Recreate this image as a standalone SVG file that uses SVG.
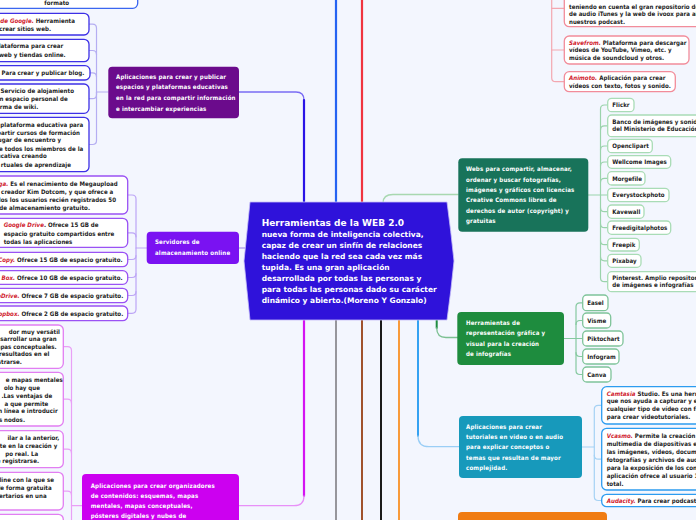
<svg xmlns="http://www.w3.org/2000/svg" width="696" height="520" viewBox="0 0 696 520">
<style>
.t{font-family:"DejaVu Sans Condensed","DejaVu Sans",sans-serif;font-weight:bold;font-size:6.1px;fill:#1c1c1c;letter-spacing:0.03px}
.e{text-anchor:end}
.n{font-family:"DejaVu Sans Condensed","DejaVu Sans",sans-serif;font-weight:bold;font-size:6.1px;fill:#fff;letter-spacing:0.15px}
.c{font-family:"DejaVu Sans",sans-serif;font-weight:bold;font-size:7.5px;fill:#fff}
.r{fill:#d0202c;font-style:italic}
.bx{fill:#fff;stroke-width:1.3}
.pu{stroke:#3d30e6}
.vi{stroke:#9a52f4}
.ma{stroke:#e27ef2}
.wg{stroke:#a9dcb6}
.gg{stroke:#7fc49a}
.tb{stroke:#2c9cf0}
.rd{stroke:#f28c9a}
.bl{stroke:#3a66f0}
.k{fill:none;stroke-linecap:round}
</style>
<rect width="696" height="520" fill="#f3f6fe"/>
<g id="connectors" class="k">
<path d="M239,92 H296 Q304,92 304,100" stroke="#7a6cf4" stroke-width="1.3"/>
<path d="M304,100 V203" stroke="#2a14e6" stroke-width="2.2"/>
<path d="M336,0 V203" stroke="#2563f2" stroke-width="2.2"/>
<path d="M362,0 V203" stroke="#f0343f" stroke-width="2.2"/>
<path d="M383,203 Q383,194.5 393,194.5 H458" stroke="#a8d8b0" stroke-width="1.3"/>
<path d="M239,248 H246" stroke="#b8a8f0" stroke-width="1.3"/>
<path d="M304,319 V496" stroke="#d414f2" stroke-width="2.2"/>
<path d="M304,496 Q304,505.7 294,505.7 H239" stroke="#e890f8" stroke-width="1.3"/>
<path d="M336,319 V522" stroke="#96969c" stroke-width="2"/>
<path d="M362,319 V522" stroke="#a0522d" stroke-width="2"/>
<path d="M381,319 V522" stroke="#1a1a1a" stroke-width="2"/>
<path d="M399,319 V522" stroke="#f89a3a" stroke-width="2"/>
<path d="M418,319 V436" stroke="#35a2f2" stroke-width="2"/>
<path d="M418,436 Q418,446.7 429,446.7 H459" stroke="#9acef6" stroke-width="1.3"/>
<path d="M436.7,319 V328" stroke="#1f8c40" stroke-width="2"/>
<path d="M436.7,328 Q436.7,337.5 446,337.5 H458" stroke="#7cc092" stroke-width="1.3"/>
<g stroke="#b5aef2" stroke-width="1.2">
<path d="M108,92 H96.5 V28.2 Q96.5,24.2 92.5,24.2 H89"/>
<path d="M96.5,54.5 Q96.5,50.5 92.5,50.5 H89"/>
<path d="M96.5,76.8 Q96.5,72.8 92.5,72.8 H90"/>
<path d="M96.5,92 V94.7 Q96.5,98.7 92.5,98.7 H89"/>
<path d="M96.5,92 V140.5 Q96.5,144.5 92.5,144.5 H89"/>
</g>
<g stroke="#bda6f6" stroke-width="1.2">
<path d="M146.7,248 H136 V199 Q136,195 132,195 H127.7"/>
<path d="M136,236.8 Q136,232.8 132,232.8 H127.7"/>
<path d="M136,248 V309.3 Q136,313.3 132,313.3 H127.7"/>
<path d="M136,255.5 Q136,259.5 132,259.5 H127.7"/>
<path d="M136,273.5 Q136,277.5 132,277.5 H127.7"/>
<path d="M136,291.5 Q136,295.5 132,295.5 H127.7"/>
</g>
<g stroke="#e9a0f6" stroke-width="1.2">
<path d="M82,505.7 H71.5 V350.7 Q71.5,346.7 67.5,346.7 H63.3"/>
<path d="M71.5,403.2 Q71.5,399.2 67.5,399.2 H63.3"/>
<path d="M71.5,453.2 Q71.5,449.2 67.5,449.2 H63.3"/>
<path d="M71.5,495.2 Q71.5,491.2 67.5,491.2 H63.3"/>
<path d="M71.5,505.7 V525"/>
</g>
<g stroke="#86c9a0" stroke-width="1.2">
<path d="M564,338.5 H576 V306.8 Q576,302.8 580,302.8 H582.7"/>
<path d="M576,324.5 Q576,320.5 580,320.5 H582.7"/>
<path d="M576,338.5 H582.7"/>
<path d="M576,352.5 Q576,356.5 580,356.5 H582.7"/>
<path d="M576,338.5 V370.5 Q576,374.5 580,374.5 H582.7"/>
</g>
<g stroke="#9ad3ab" stroke-width="1.2">
<path d="M588.3,195 H600.5 V109 Q600.5,105 604.5,105 H607.7"/>
<path d="M600.5,129.9 Q600.5,125.9 604.5,125.9 H607.7"/>
<path d="M600.5,150 Q600.5,146 604.5,146 H607.7"/>
<path d="M600.5,166 Q600.5,162 604.5,162 H607.7"/>
<path d="M600.5,182.3 Q600.5,178.3 604.5,178.3 H607.7"/>
<path d="M600.5,195 H607.7"/>
<path d="M600.5,207.7 Q600.5,211.7 604.5,211.7 H607.7"/>
<path d="M600.5,223.7 Q600.5,227.7 604.5,227.7 H607.7"/>
<path d="M600.5,240.7 Q600.5,244.7 604.5,244.7 H607.7"/>
<path d="M600.5,256.8 Q600.5,260.8 604.5,260.8 H607.7"/>
<path d="M600.5,195 V277.7 Q600.5,281.7 604.5,281.7 H607.7"/>
</g>
<g stroke="#a6d2f4" stroke-width="1.2">
<path d="M582,447 H594.3 V409.3 Q594.3,405.3 598.3,405.3 H601.7"/>
<path d="M594.3,455.2 Q594.3,459.2 598.3,459.2 H601.7"/>
<path d="M594.3,447 V496.5 Q594.3,500.5 598.3,500.5 H601.7"/>
</g>
<g stroke="#f3a7b0" stroke-width="1.2">
<path d="M551.7,-5 V77.7 Q551.7,81.7 555.7,81.7 H564.3"/>
<path d="M551.7,8.3 H564.3"/>
<path d="M551.7,50 H564.3"/>
</g>
</g>
<g id="center">
<path d="M250,202 H447 Q451,232 454,261 Q451,291 447,320 H250 Q247,291 244,261 Q247,232 250,202 Z" fill="#2f12da" stroke="#c4bcf8" stroke-width="0.8"/>
<text class="c" x="261.7" y="226" style="font-size:9px">Herramientas de la WEB 2.0</text>
<text class="c" x="261.7" y="236.8">nueva forma de inteligencia colectiva,</text>
<text class="c" x="261.7" y="247.7">capaz de crear un sinfín de relaciones</text>
<text class="c" x="261.7" y="258.7">haciendo que la red sea cada vez más</text>
<text class="c" x="261.7" y="269.6">tupida. Es una gran aplicación</text>
<text class="c" x="261.7" y="280.6">desarrollada por todas las personas y</text>
<text class="c" x="261.7" y="291.5">para todas las personas dado su carácter</text>
<text class="c" x="261.7" y="302.5">dinámico y abierto.(Moreno Y Gonzalo)</text>
</g>
<g id="n-formato">
<rect class="bx bl" x="-20" y="-30" width="157.7" height="38.3" rx="5"/>
<text class="t" x="44.3" y="5.2">formato</text>
</g>
<g id="n-espacios">
<rect x="108.3" y="66.7" width="130.7" height="51.6" rx="4" fill="#6b0b8c"/>
<text class="n" x="116" y="78.7">Aplicaciones para crear y publicar</text>
<text class="n" x="116" y="89.3">espacios y plataformas educativas</text>
<text class="n" x="116" y="100">en la red para compartir información</text>
<text class="n" x="116" y="110.7">e intercambiar experiencias</text>
</g>
<g id="n-sites">
<rect class="bx pu" x="-20" y="13.3" width="109" height="21.7" rx="5"/>
<text class="t e" x="75" y="22.9"><tspan class="r">de Google.</tspan> Herramienta</text>
<text class="t e" x="51" y="31.2">crear sitios web.</text>
</g>
<g id="n-wix">
<rect class="bx pu" x="-20" y="39.3" width="109" height="22.4" rx="5"/>
<text class="t e" x="63.3" y="48.2">Plataforma para crear</text>
<text class="t e" x="65.7" y="56.5">web y tiendas online.</text>
</g>
<g id="n-blogger">
<rect class="bx pu" x="-20" y="65.7" width="110" height="14.3" rx="5"/>
<text class="t e" x="84.3" y="74.9"><tspan class="r">.</tspan> Para crear y publicar blog.</text>
</g>
<g id="n-wikispaces">
<rect class="bx pu" x="-20" y="84" width="109" height="29.3" rx="5"/>
<text class="t e" x="74" y="92.9">. Servicio de alojamiento</text>
<text class="t e" x="67.7" y="101.2">n espacio personal de</text>
<text class="t e" x="38.3" y="108.9">rma de wiki.</text>
</g>
<g id="n-edmodo">
<rect class="bx pu" x="-20" y="117.3" width="109" height="54.4" rx="5"/>
<text class="t e" x="83.3" y="127.2">a plataforma educativa para</text>
<text class="t e" x="80" y="134.9">partir cursos de formación</text>
<text class="t e" x="61" y="142.2">lugar de encuentro y</text>
<text class="t e" x="83.3" y="150.5">e todos los miembros de la</text>
<text class="t e" x="46.7" y="158.2">ucativa creando</text>
<text class="t e" x="71" y="166.5">rtuales de aprendizaje</text>
</g>
<g id="n-servidores">
<rect x="146.7" y="231.7" width="92.3" height="32.3" rx="4" fill="#7a12f2"/>
<text class="n" x="155" y="244.3">Servidores de</text>
<text class="n" x="155" y="255.3">almacenamiento online</text>
</g>
<g id="n-mega">
<rect class="bx vi" x="-20" y="176" width="147.7" height="38" rx="5"/>
<text class="t e" x="117.7" y="186.2"><tspan class="r">ga.</tspan> Es el renacimiento de Megaupload</text>
<text class="t e" x="113.3" y="193.9">creador Kim Dotcom, y que ofrece a</text>
<text class="t e" x="116" y="201.5">dos los usuarios recién registrados 50</text>
<text class="t e" x="90" y="209.5">de almacenamiento gratuito.</text>
</g>
<g id="n-gdrive">
<rect class="bx vi" x="-20" y="218.3" width="147.7" height="29" rx="5"/>
<text class="t" x="3.7" y="227.2"><tspan class="r">Google Drive</tspan>. Ofrece 15 GB de</text>
<text class="t" x="3.7" y="235.5">espacio gratuito compartidos entre</text>
<text class="t" x="3.7" y="243.9">todas las aplicaciones</text>
</g>
<g id="n-copy">
<rect class="bx vi" x="-20" y="252.3" width="147.7" height="14.4" rx="5"/>
<text class="t e" x="122.7" y="261.5"><tspan class="r">Copy.</tspan> Ofrece 15 GB de espacio gratuito.</text>
</g>
<g id="n-box">
<rect class="bx vi" x="-20" y="270.7" width="147.7" height="13.6" rx="5"/>
<text class="t e" x="122.7" y="279.5"><tspan class="r">Box.</tspan> Ofrece 10 GB de espacio gratuito.</text>
</g>
<g id="n-onedrive">
<rect class="bx vi" x="-20" y="288.3" width="147.7" height="14.4" rx="5"/>
<text class="t e" x="123.3" y="297.9"><tspan class="r">eDrive.</tspan> Ofrece 7 GB de espacio gratuito.</text>
</g>
<g id="n-dropbox">
<rect class="bx vi" x="-20" y="306" width="147.7" height="14.7" rx="5"/>
<text class="t e" x="123.3" y="315.9"><tspan class="r">opbox.</tspan> Ofrece 2 GB de espacio gratuito.</text>
</g>
<g id="n-organizadores">
<rect x="82" y="474" width="157" height="60" rx="4" fill="#cc00f0"/>
<text class="n" x="90.7" y="487.7">Aplicaciones para crear organizadores</text>
<text class="n" x="90.7" y="497.6">de contenidos: esquemas, mapas</text>
<text class="n" x="90.7" y="508">mentales, mapas conceptuales,</text>
<text class="n" x="90.7" y="518.2">pósteres digitales y nubes de</text>
</g>
<g id="n-org1">
<rect class="bx ma" x="-20" y="325" width="83.3" height="43.3" rx="5"/>
<text class="t e" x="60" y="333.9">dor muy versátil</text>
<text class="t e" x="56.7" y="341.2">esarrollar una gran</text>
<text class="t e" x="56.7" y="348.9">apas conceptuales.</text>
<text class="t e" x="49.3" y="356.2">resultados en el</text>
<text class="t e" x="22" y="363.9">strarse.</text>
</g>
<g id="n-org2">
<rect class="bx ma" x="-20" y="372.3" width="83.3" height="53.7" rx="5"/>
<text class="t e" x="62.7" y="382.2">e mapas mentales</text>
<text class="t e" x="40" y="389.5">olo hay que</text>
<text class="t e" x="52.3" y="397.9">.Las ventajas de</text>
<text class="t e" x="48.3" y="405.5">a que permite</text>
<text class="t e" x="57.7" y="413.2">n línea e introducir</text>
<text class="t e" x="25" y="421.5">s nodos.</text>
</g>
<g id="n-org3">
<rect class="bx ma" x="-20" y="430.7" width="83.3" height="37" rx="5"/>
<text class="t e" x="59.3" y="439.9">ilar a la anterior,</text>
<text class="t e" x="57.3" y="448.2">te en la creación y</text>
<text class="t e" x="38.3" y="455.5">po real. La</text>
<text class="t e" x="39" y="463.2">e registrarse.</text>
</g>
<g id="n-org4">
<rect class="bx ma" x="-20" y="472.3" width="83.3" height="37.7" rx="5"/>
<text class="t e" x="54" y="482.2">line con la que se</text>
<text class="t e" x="51.7" y="489.5">de forma gratuita</text>
<text class="t e" x="46.7" y="497.9">ertarios en una</text>
</g>
<g id="n-org5">
<rect class="bx ma" x="-20" y="514.3" width="83.3" height="30" rx="5"/>
</g>
<g id="n-podcast">
<rect class="bx rd" x="564.3" y="-20" width="150" height="46.7" rx="5"/>
<text class="t" x="569" y="8.9">teniendo en cuenta el gran repositorio de</text>
<text class="t" x="569" y="16.2">de audio iTunes y la web de ivoox para alojar</text>
<text class="t" x="569" y="23.9">nuestros podcast.</text>
</g>
<g id="n-savefrom">
<rect class="bx rd" x="564.3" y="36" width="124.7" height="28" rx="5"/>
<text class="t" x="569" y="44.9"><tspan class="r">Savefrom.</tspan> Plataforma para descargar</text>
<text class="t" x="569" y="52.2">vídeos de YouTube, Vimeo, etc. y</text>
<text class="t" x="569" y="59.5">música de soundcloud y otros.</text>
</g>
<g id="n-animoto">
<rect class="bx rd" x="564.3" y="71.7" width="111" height="20" rx="5"/>
<text class="t" x="569" y="79.9"><tspan class="r">Animoto.</tspan> Aplicación para crear</text>
<text class="t" x="569" y="87.9">vídeos con texto, fotos y sonido.</text>
</g>
<g id="n-webs">
<rect x="458.3" y="158.3" width="130" height="73.4" rx="4" fill="#18735a"/>
<text class="n" x="466" y="171.3">Webs para compartir, almacenar,</text>
<text class="n" x="466" y="181.6">ordenar y buscar fotografías,</text>
<text class="n" x="466" y="191.9">imágenes y gráficos con licencias</text>
<text class="n" x="466" y="202.2">Creative Commons libres de</text>
<text class="n" x="466" y="212.5">derechos de autor (copyright) y</text>
<text class="n" x="466" y="222.8">gratuitas</text>
</g>
<g id="n-flickr"><rect class="bx wg" x="607.7" y="98.3" width="26.3" height="13.4" rx="4"/><text class="t" x="612.3" y="107.2">Flickr</text></g>
<g id="n-banco"><rect class="bx wg" x="607.7" y="115" width="100" height="21.7" rx="4"/><text class="t" x="612.3" y="123.9">Banco de imágenes y sonidos</text><text class="t" x="612.3" y="130.6">del Ministerio de Educación</text></g>
<g id="n-openclipart"><rect class="bx wg" x="607.7" y="139.3" width="44.6" height="13.4" rx="4"/><text class="t" x="612.3" y="148.2">Openclipart</text></g>
<g id="n-wellcome"><rect class="bx wg" x="607.7" y="155.7" width="63" height="12.6" rx="4"/><text class="t" x="612.3" y="164.2">Wellcome Images</text></g>
<g id="n-morgefile"><rect class="bx wg" x="607.7" y="171.7" width="37.3" height="13.3" rx="4"/><text class="t" x="612.3" y="180.5">Morgefile</text></g>
<g id="n-everystock"><rect class="bx wg" x="607.7" y="188.3" width="61.3" height="13.4" rx="4"/><text class="t" x="612.3" y="197.2">Everystockphoto</text></g>
<g id="n-kavewall"><rect class="bx wg" x="607.7" y="205" width="36.3" height="13.3" rx="4"/><text class="t" x="612.3" y="213.9">Kavewall</text></g>
<g id="n-freedigital"><rect class="bx wg" x="607.7" y="221" width="63" height="13.3" rx="4"/><text class="t" x="612.3" y="229.9">Freedigitalphotos</text></g>
<g id="n-freepik"><rect class="bx wg" x="607.7" y="238.3" width="31.6" height="12.7" rx="4"/><text class="t" x="612.3" y="246.9">Freepik</text></g>
<g id="n-pixabay"><rect class="bx wg" x="607.7" y="254.3" width="33.3" height="13" rx="4"/><text class="t" x="612.3" y="263">Pixabay</text></g>
<g id="n-pinterest"><rect class="bx wg" x="607.7" y="271.7" width="100" height="20" rx="4"/><text class="t" x="612.3" y="279.9">Pinterest. Amplio repositorio</text><text class="t" x="612.3" y="286.6">de imágenes e infografías</text></g>
<g id="n-infografias">
<rect x="457.3" y="312" width="106.7" height="53" rx="4" fill="#1e8c3e"/>
<text class="n" x="466" y="324.7">Herramientas de</text>
<text class="n" x="466" y="335.2">representación gráfica y</text>
<text class="n" x="466" y="345.7">visual para la creación</text>
<text class="n" x="466" y="356.2">de infografías</text>
</g>
<g id="n-easel"><rect class="bx gg" x="582.7" y="295" width="25.3" height="15.7" rx="4"/><text class="t" x="587.3" y="305">Easel</text></g>
<g id="n-visme"><rect class="bx gg" x="582.7" y="313" width="28" height="15" rx="4"/><text class="t" x="587.3" y="322.7">Visme</text></g>
<g id="n-piktochart"><rect class="bx gg" x="582.7" y="331" width="40.3" height="15" rx="4"/><text class="t" x="587.3" y="340.7">Piktochart</text></g>
<g id="n-infogram"><rect class="bx gg" x="582.7" y="349" width="36.3" height="15" rx="4"/><text class="t" x="587.3" y="358.7">Infogram</text></g>
<g id="n-canva"><rect class="bx gg" x="582.7" y="367" width="28.3" height="15" rx="4"/><text class="t" x="587.3" y="376.7">Canva</text></g>
<g id="n-tutoriales">
<rect x="459" y="416" width="123" height="62" rx="4" fill="#1799bb"/>
<text class="n" x="466" y="428.7">Aplicaciones para crear</text>
<text class="n" x="466" y="439">tutoriales en video o en audio</text>
<text class="n" x="466" y="449.3">para explicar conceptos o</text>
<text class="n" x="466" y="459.6">temas que resultan de mayor</text>
<text class="n" x="466" y="470">complejidad.</text>
</g>
<g id="n-camtasia">
<rect class="bx tb" x="601.7" y="386.7" width="110" height="37.3" rx="5"/>
<text class="t" x="606.7" y="395.5"><tspan class="r">Camtasia</tspan> Studio. Es una herramienta</text>
<text class="t" x="606.7" y="403.3">que nos ayuda a capturar y editar</text>
<text class="t" x="606.7" y="411.2">cualquier tipo de vídeo con facilidad</text>
<text class="t" x="606.7" y="419.3">para crear videotutoriales.</text>
</g>
<g id="n-vcasmo">
<rect class="bx tb" x="601.7" y="428.3" width="110" height="61.7" rx="5"/>
<text class="t" x="606.7" y="438.2"><tspan class="r">Vcasmo.</tspan> Permite la creación</text>
<text class="t" x="606.7" y="446.1">multimedia de diapositivas en</text>
<text class="t" x="606.7" y="454">las imágenes, vídeos, documentos</text>
<text class="t" x="606.7" y="461.9">fotografías y archivos de audio</text>
<text class="t" x="606.7" y="469.8">para la exposición de los contenidos</text>
<text class="t" x="606.7" y="477.7">aplicación ofrece al usuario 1</text>
<text class="t" x="606.7" y="485.6">total.</text>
</g>
<g id="n-audacity">
<rect class="bx tb" x="601.7" y="494.3" width="110" height="12.4" rx="5"/>
<text class="t" x="606.7" y="503"><tspan class="r">Audacity.</tspan> Para crear podcast</text>
</g>
<g id="n-audio">
<rect x="458" y="512" width="149" height="30" rx="4" fill="#f07c12"/>
</g>
</svg>
